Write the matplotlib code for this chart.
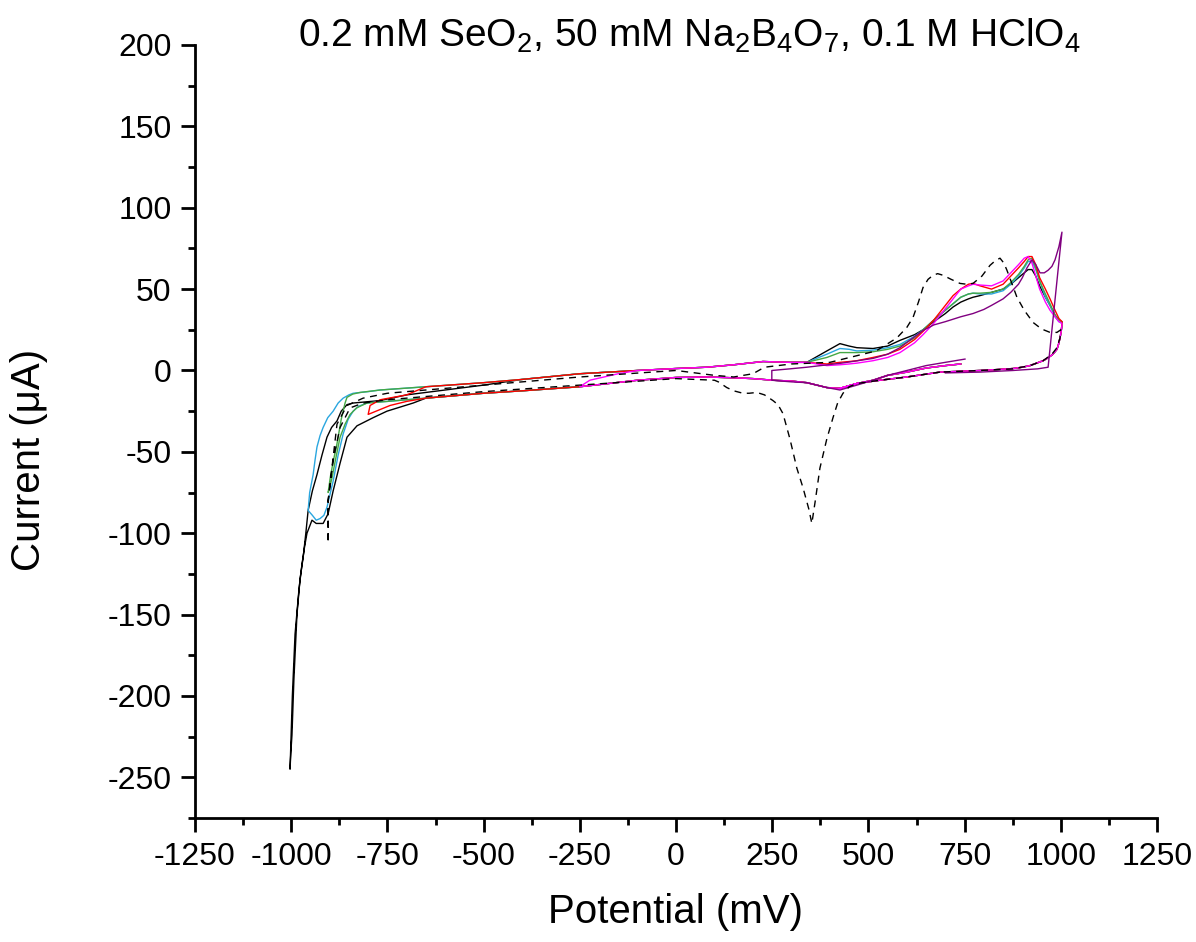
"""Cyclic voltammograms of SeO2 in borate / perchloric acid."""

import matplotlib

matplotlib.use("Agg")
import matplotlib.pyplot as plt
from matplotlib.ticker import MultipleLocator

matplotlib.rcParams["font.family"] = ["Liberation Sans", "DejaVu Sans"]
matplotlib.rcParams["mathtext.fontset"] = "custom"
matplotlib.rcParams["mathtext.rm"] = "Liberation Sans"
matplotlib.rcParams["mathtext.it"] = "Liberation Sans:italic"
matplotlib.rcParams["axes.unicode_minus"] = False

# --- shared branches (potential in mV, current in uA) ---
# start of scan at ~750 mV going cathodic, down to the small reduction dip
start_E = [740, 700, 650, 600, 550, 512, 470, 426]
start_I = [4, 3, 1.5, -1, -3, -6, -8, -11]

# cathodic (negative going) band from the dip to -750 mV
lower_E = [426, 392, 340, 300, 252, 200, 150, 80, 0, -100, -250, -400, -500, -650, -750]
lower_I = [-11, -10.5, -7.5, -6.5, -6, -5, -4.5, -4, -4.3, -6, -10, -12.5, -14, -17, -19]

# anodic (positive going) band from -750 mV up to 340 mV
upper_E = [-750, -650, -500, -400, -250, -100, 0, 80, 150, 226, 296, 340]
upper_I = [-12, -10, -7.5, -5.5, -2, 0, 1.2, 2, 3.5, 5.5, 5, 5]

# return from the +1000 mV vertex
return_E = [1003, 1001, 998, 994, 990, 983, 977, 965, 954, 937, 920, 900, 876, 830, 790,
            686, 600, 530, 470, 426]
return_I = [28, 24, 20, 16, 13, 11, 9.5, 7.5, 6, 4.5, 3, 2, 1.2, 0.5, 0,
            -1, -4, -6, -8, -11]

# --- per-scan pieces ---
# oxidation region 392..1003 mV
ox_E = [392, 426, 450, 470, 512, 550, 582, 620, 642, 670, 700, 720, 740, 760, 772, 790,
        820, 850, 870, 890, 905, 915, 925, 935, 945, 960, 972, 985, 995, 1003]
black_ox_I = [12, 16.5, 15, 14, 13.5, 15, 18.5, 22, 25, 30, 35, 39, 42, 44, 45, 46,
              48, 50, 53, 57, 60, 62, 62, 58, 52, 45, 40, 34, 31, 30]
blue_ox_I = [10, 13.5, 13, 12, 12.5, 14, 16, 21, 25, 31, 37, 41, 45, 47, 47.5, 47,
             47, 49, 53, 58, 63, 67, 67, 62, 55, 45, 40, 33, 30, 29]
green_ox_I = [8, 11, 11, 11, 11.5, 13, 15, 20, 25, 31, 37, 41, 45, 47, 47.5, 47.5,
              48, 50, 54, 59, 64, 68, 69, 63, 55, 47, 41, 34, 31, 30]
red_ox_I = [4, 5, 5.5, 6, 8, 10, 13, 19, 24, 31, 40, 46, 50, 53, 53.5, 52,
            50, 53, 58, 63, 67, 70, 70, 65, 57, 50, 44, 37, 32, 30]
magenta_ox_I = [3, 3.5, 4, 4.5, 6, 8, 11, 17, 22, 29, 38, 44, 50, 52, 53, 52.5,
                52, 55, 60, 65, 69, 70, 66, 58, 50, 42, 37, 33, 30, 29]

# negative vertex regions
black_vtx_E = [-683, -751, -787, -829, -855, -873, -891, -904, -917, -935, -946, -959, -965,
               -972, -980, -990, -997, -1003, -1001, -998, -993, -985, -977, -969, -962, -956,
               -945, -933, -920, -907, -895, -881, -870, -855, -839, -769, -700, -600, -500]
black_vtx_I = [-20, -25, -29, -34, -41, -57, -74, -88, -94, -94, -92, -100, -108,
               -119, -135, -162, -200, -245, -235, -224, -190, -150, -128, -115, -100, -86,
               -74, -64, -52, -41, -35, -31, -25, -21, -20, -18.5, -15, -12, -9]

blue_vtx_E = [-750, -780, -803, -825, -839, -852, -865, -878, -891, -900, -907, -915, -925,
              -935, -945, -956, -952, -943, -938, -933, -925, -917, -905, -891, -878, -865,
              -850, -839, -800, -769]
blue_vtx_I = [-19, -19.5, -20, -22, -25, -30, -39, -52, -68, -77, -84, -89, -91,
              -92, -89, -86, -75, -64, -55, -47, -40, -35, -29, -25, -20, -17,
              -15, -14, -13, -12]

green_vtx_E = [-750, -803, -830, -847, -860, -873, -885, -894, -900, -904, -898, -890, -881,
               -870, -860, -855, -840, -821, -769]
green_vtx_I = [-19, -20, -23, -27, -33, -41, -55, -66, -72, -75, -65, -55, -45,
               -30, -20, -16.5, -14.5, -13.5, -12]

red_vtx_E = [-650, -700, -743, -800, -795, -769, -700]
red_vtx_I = [-17, -19, -21.5, -27, -21.5, -18, -15]

magenta_vtx_E = [-250, -224, -150, -100]
magenta_vtx_I = [-10, -6, -2, 0]

# purple: only scans 250..1000 mV
purple_E = [751, 700, 650, 600, 550, 512, 470, 426, 392, 340, 300, 249, 249, 296, 340, 430,
            512, 550, 582, 610, 642, 670, 700, 740, 772, 800, 820, 850, 870, 890, 900, 912,
            925, 935, 946, 957, 967, 977, 985, 995, 1003, 967, 940, 876, 790, 700]
purple_I = [7, 5, 3, 0, -3, -6, -9, -12, -10.5, -7.5, -7, -6, 0, 1, 2, 4.5,
            7.4, 10, 14, 19, 24.6, 28, 30, 33, 35, 37.5, 40, 44, 48, 53, 57, 63,
            68, 65, 60, 60, 61.6, 64, 68, 76, 85, 2, 1, 0, -1, -1.5]

# black dashed: first scan with the big reduction peak at 350 mV
dashed_E = [686, 600, 530, 470, 450, 434, 420, 408, 392, 374, 362, 353, 345, 330, 314, 296,
            278, 265, 252, 230, 210, 190, 174, 150, 132, 110, 100, 0, -250, -500,
            -750, -813, -847, -873, -891, -904, -904, -904, -881, -855, -813, -750, -500,
            -250, 0, 100, 150, 200, 230, 300, 400, 520, 574, 600, 616, 630, 642, 655, 668,
            680, 694, 715, 738, 755, 772, 795, 816, 830, 842, 852, 860, 872, 886, 905, 928,
            950, 972, 990, 1000, 998, 990, 977, 954, 920, 876, 790, 686]
dashed_I = [-1, -4, -6, -8, -10, -14, -20, -29, -42, -60, -80, -94, -85, -72, -60, -42,
            -26.5, -21, -18.5, -15, -13.5, -14, -14, -12.5, -10.5, -7, -6, -5, -9, -13,
            -18, -20, -23, -35, -55, -80, -106, -80, -33, -21.5, -17, -14, -9,
            -4, 0, -3, -4, -2, 2, 4, 5, 12, 20, 26.5, 32.6, 42, 51, 56, 58.5,
            59.5, 58.5, 56, 53.5, 53, 53.5, 58, 64.6, 67.5, 69, 66, 61.6, 54, 45, 37, 29.5,
            25.5, 23.4, 23.4, 25, 20, 14, 10, 6, 3, 1, 0, -1]


def full_scan(vtx_E, vtx_I, ox_I, lower_to=-750, upper_from=-700):
    """Join the shared branches and the scan-specific parts into one path."""
    lo = [(e, i) for e, i in zip(lower_E, lower_I) if e > lower_to]
    up = [(e, i) for e, i in zip(upper_E, upper_I) if e > upper_from]
    pts = list(zip(start_E, start_I)) + lo + list(zip(vtx_E, vtx_I)) + up
    pts += list(zip(ox_E, ox_I)) + list(zip(return_E, return_I))
    return [p[0] for p in pts], [p[1] for p in pts]


fig = plt.figure(figsize=(11.96, 9.42), dpi=100)
ax = fig.add_axes([195 / 1196, 1 - 818 / 942, 962 / 1196, 773 / 942])

scans = [
    ("black", full_scan(black_vtx_E, black_vtx_I, black_ox_I, lower_to=-683, upper_from=-500)),
    ("#2aa6df", full_scan(blue_vtx_E, blue_vtx_I, blue_ox_I)),
    ("#45a845", full_scan(green_vtx_E, green_vtx_I, green_ox_I)),
    ("red", full_scan(red_vtx_E, red_vtx_I, red_ox_I, lower_to=-650)),
    ("magenta", full_scan(magenta_vtx_E, magenta_vtx_I, magenta_ox_I, lower_to=-250, upper_from=-100)),
]
for color, (e, i) in scans:
    ax.plot(e, i, color=color, lw=1.0)

ax.plot(purple_E, purple_I, color="#800080", lw=1.0)
ax.plot(dashed_E, dashed_I, color="black", lw=1.0, ls=(0, (5, 4)))

ax.set_xlim(-1250, 1250)
ax.set_ylim(-275, 200)
ax.xaxis.set_major_locator(MultipleLocator(250))
ax.xaxis.set_minor_locator(MultipleLocator(125))
ax.yaxis.set_major_locator(MultipleLocator(50))
ax.yaxis.set_minor_locator(MultipleLocator(25))

for side in ("top", "right"):
    ax.spines[side].set_visible(False)
for side in ("left", "bottom"):
    ax.spines[side].set_linewidth(2.0)
ax.tick_params(which="major", direction="out", length=10, width=2.0, labelsize=23, pad=7)
ax.tick_params(which="minor", direction="out", length=5, width=2.0)

ax.set_xlabel("Potential (mV)", fontsize=29)
ax.set_ylabel("Current (μA)", fontsize=29)
ax.xaxis.set_label_coords(0.5, -0.097)
ax.xaxis.label.set_va("top")
ax.yaxis.set_label_coords(-0.153, 0.463)

fig.text(689 / 1196, 1 - 47 / 942,
         r"0.2 mM SeO$_2$, 50 mM Na$_2$B$_4$O$_7$, 0.1 M HClO$_4$",
         ha="center", va="baseline", fontsize=28)

fig.savefig("out.png", dpi=100)
